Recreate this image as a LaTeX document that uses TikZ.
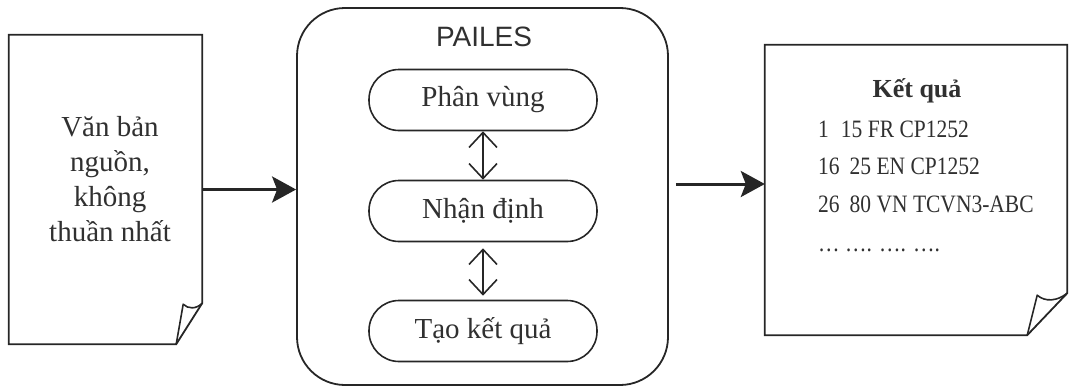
\documentclass[tikz,border=0pt]{standalone}
\usepackage{fontspec}
\setmainfont{Liberation Serif}
\newfontfamily\sansf{Liberation Sans}
\newfontfamily\condf[FakeStretch=0.86]{Liberation Serif}
\usetikzlibrary{arrows.meta}
\definecolor{ink}{HTML}{262626}
\definecolor{txt}{HTML}{303030}
\tikzset{
  docbox/.style={draw=none, inner sep=0pt},
  docline/.style={draw=ink, line width=1.8pt, line join=miter},
  foldline/.style={draw=ink, line width=1.6pt, line join=round},
  pailesbox/.style={draw=ink, line width=1.8pt, rounded corners=48pt, inner sep=0pt},
  pill/.style={draw=ink, line width=1.6pt, rounded corners=30pt, minimum width=228pt, minimum height=61pt, inner sep=0pt,
    text=txt, font=\fontsize{29}{35}\selectfont},
  bigarrow/.style={draw=ink, line width=3pt, -{Stealth[length=24pt,width=26pt,inset=5pt]}},
  dbl/.style={draw=ink, line width=1.6pt, {Straight Barb[length=15pt,width=28pt]}-{Straight Barb[length=15pt,width=28pt]}},
  lbl/.style={text=txt, inner sep=0pt}
}
\begin{document}
\begin{tikzpicture}[x=1pt,y=-1pt]
\useasboundingbox (0,0) rectangle (1075,388);

% source document
\node[docbox, minimum width=193pt, minimum height=309pt] (src) at (105.5,189.5) {};
\draw[docline] (src.north west) -- (src.north east) -- ([yshift=41pt]src.south east)
  -- ([xshift=-26pt]src.south east) -- (src.south west) -- cycle;
\draw[foldline] ([xshift=-26pt]src.south east) -- ([xshift=-19pt,yshift=40pt]src.south east)
  .. controls ([xshift=-14pt,yshift=35pt]src.south east) and ([xshift=-6pt,yshift=35pt]src.south east)
  .. ([yshift=41pt]src.south east);
\node[lbl, align=center, font=\fontsize{29}{35}\selectfont] (srctext) at (110,179)
  {Văn bản\\nguồn,\\không\\thuần nhất};

% PAILES box
\node[pailesbox, minimum width=371pt, minimum height=377pt] (pailes) at (482.5,196.5) {};
\node[lbl, font=\sansf\fontsize{28}{33}\selectfont] (title) at (484,37) {PAILES};
\node[pill] (p1) at (483,100) {Phân vùng};
\node[pill] (p2) at (483,211) {Nhận định};
\node[pill] (p3) at (483,331) {Tạo kết quả};
\draw[dbl] (p1.south) -- (p2.north);
\draw[dbl, shorten <=6pt, shorten >=4pt] (p2.south) -- (p3.north);

% result document
\node[docbox, minimum width=302pt, minimum height=290pt] (res) at (916,190) {};
\draw[docline] (res.north west) -- (res.north east) -- ([yshift=42pt]res.south east)
  -- ([xshift=-40pt]res.south east) -- (res.south west) -- cycle;
\draw[foldline] ([xshift=-40pt]res.south east) -- ([xshift=-30pt,yshift=40pt]res.south east)
  .. controls ([xshift=-22pt,yshift=33pt]res.south east) and ([xshift=-10pt,yshift=34pt]res.south east)
  .. ([yshift=42pt]res.south east);
\node[lbl, anchor=base, font=\bfseries\fontsize{26}{30}\selectfont] (restitle) at (917,97) {Kết quả};
\node[lbl, anchor=base west, font=\condf\fontsize{25}{30}\selectfont] (r1) at (818,137) {1\hspace{12pt}15 FR CP1252};
\node[lbl, anchor=base west, font=\condf\fontsize{25}{30}\selectfont] (r2) at (818,174) {16\hspace{10pt}25 EN CP1252};
\node[lbl, anchor=base west, font=\condf\fontsize{25}{30}\selectfont] (r3) at (818,212) {26\hspace{10pt}80 VN TCVN3-ABC};
\node[lbl, anchor=base west, font=\condf\fontsize{25}{30}\selectfont] (r4) at (818,251) {… …. …. ….};

% connectors
\draw[bigarrow] (src.east) -- (src.east -| pailes.west);
\coordinate (rin) at ([yshift=6pt]res.west);
\draw[bigarrow, shorten <=7pt] (rin -| pailes.east) -- (rin);
\end{tikzpicture}
\end{document}
